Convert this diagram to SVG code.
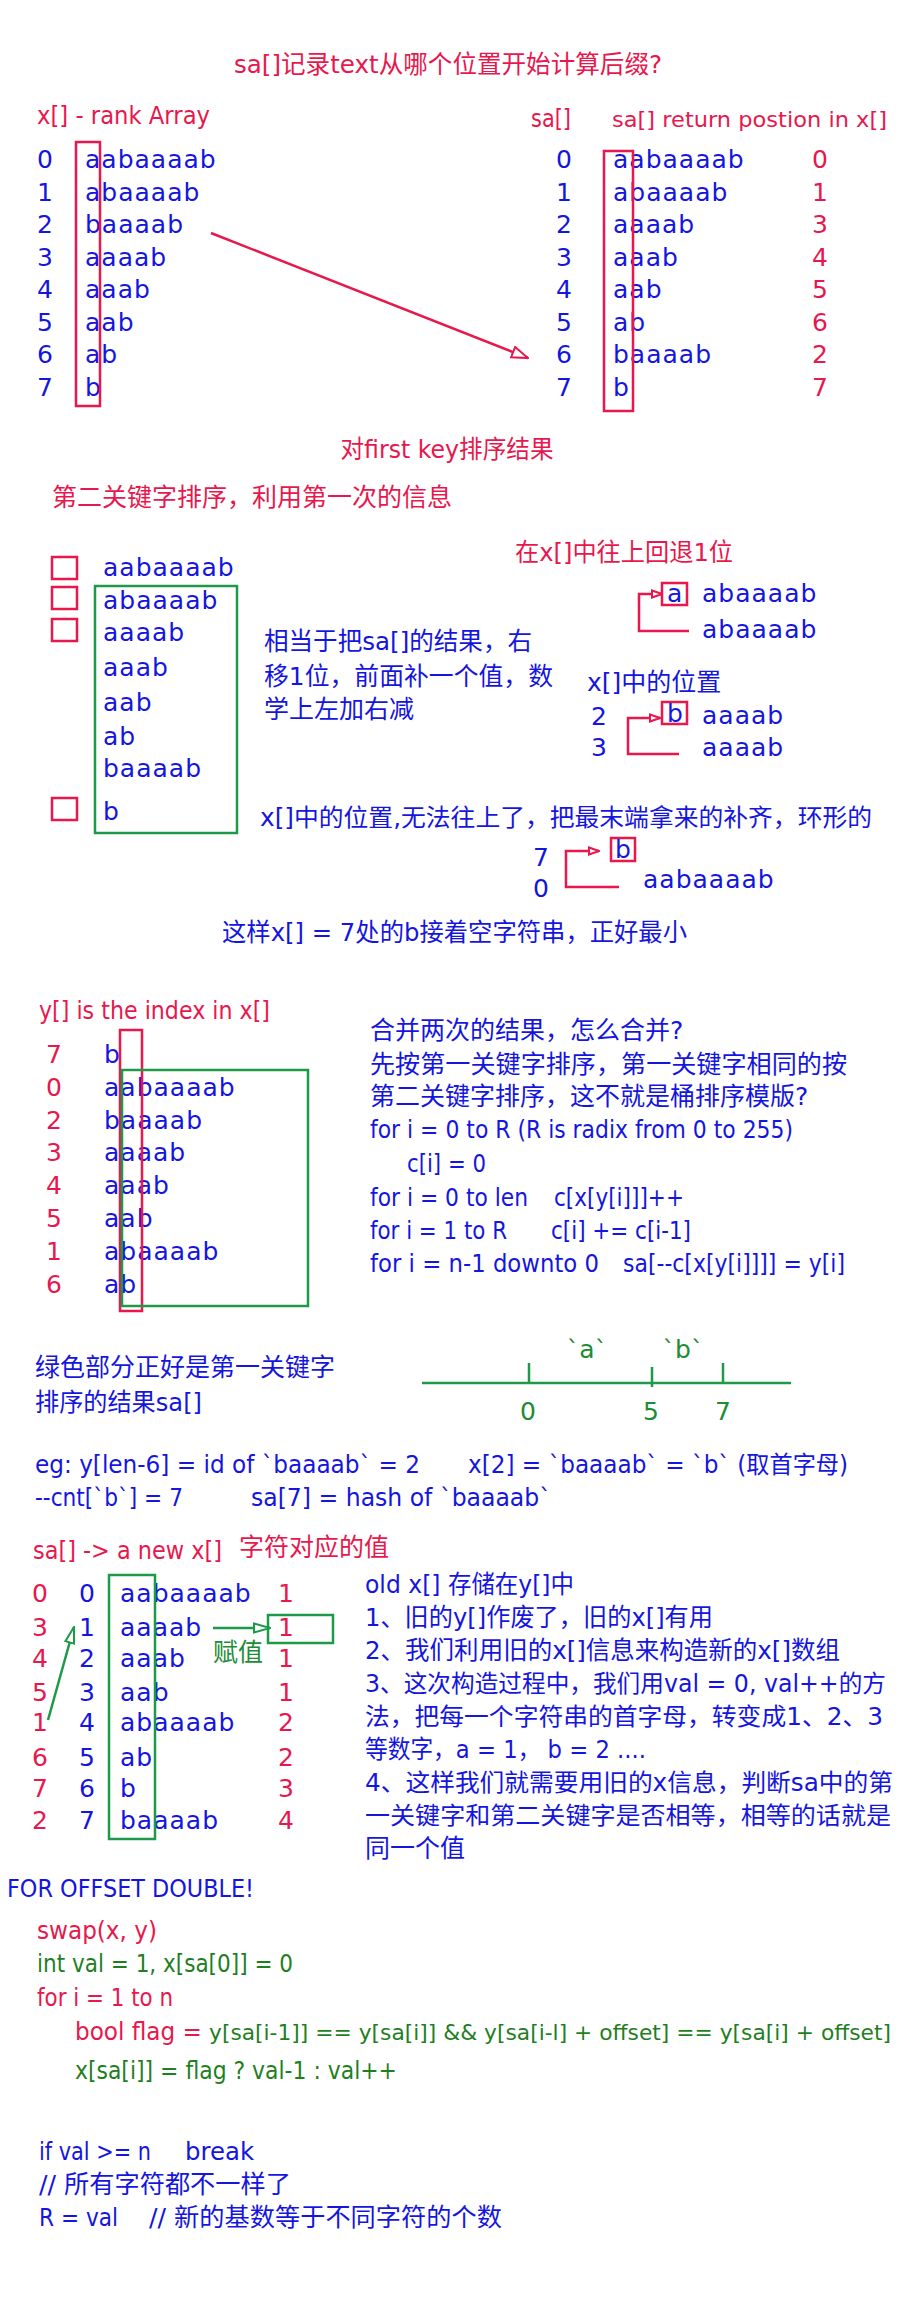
<svg xmlns="http://www.w3.org/2000/svg" width="900" height="2300" viewBox="0 0 900 2300">
<style>
text{font-family:"DejaVu Sans","Noto Sans CJK SC",sans-serif;font-size:25px}
.r{fill:#e8174d}
.b{fill:#1515e0}
.g{fill:#1f7f1f}
.gl{fill:#1d8c35}
.s{letter-spacing:1px}
.sm{font-size:22px}
.md{font-size:24px}
.rr{fill:none;stroke:#e8174d;stroke-width:2.5}
.gr{fill:none;stroke:#1c9a48;stroke-width:2.5}
.cr{fill:none;stroke:#e8174d;stroke-width:2.5}
.cg{fill:none;stroke:#1c9a48;stroke-width:2.5}
</style>
<defs>
<marker id="arR" viewBox="0 0 12 10" refX="11" refY="5" markerWidth="12" markerHeight="10" markerUnits="userSpaceOnUse" orient="auto"><path d="M1,1.5 L11,5 L1,8.5 z" fill="#fff" stroke="#e8174d" stroke-width="2"/></marker>
<marker id="arRL" viewBox="0 0 18 14" refX="17" refY="7" markerWidth="18" markerHeight="14" markerUnits="userSpaceOnUse" orient="auto"><path d="M1,1.5 L17,7 L1,12.5 z" fill="#fff" stroke="#e8174d" stroke-width="2"/></marker>
<marker id="arG" viewBox="0 0 18 12" refX="17" refY="6" markerWidth="18" markerHeight="12" markerUnits="userSpaceOnUse" orient="auto"><path d="M1,1.5 L17,6 L1,10.5 z" fill="#fff" stroke="#1c9a48" stroke-width="2"/></marker>
</defs>

<g id="title"><text class="r" x="448" y="73" text-anchor="middle" textLength="428" lengthAdjust="spacingAndGlyphs">sa[]记录text从哪个位置开始计算后缀?</text></g>

<g id="x-rank-array">
<text class="r" x="37" y="124" textLength="173" lengthAdjust="spacingAndGlyphs">x[] - rank Array</text>
<g class="b">
<text x="37" y="168">0</text><text x="37" y="201">1</text><text x="37" y="233">2</text><text x="37" y="266">3</text><text x="37" y="298">4</text><text x="37" y="331">5</text><text x="37" y="363">6</text><text x="37" y="396">7</text>
<text class="s" x="85" y="168">aabaaaab</text><text class="s" x="85" y="201">abaaaab</text><text class="s" x="85" y="233">baaaab</text><text class="s" x="85" y="266">aaaab</text><text class="s" x="85" y="298">aaab</text><text class="s" x="85" y="331">aab</text><text class="s" x="85" y="363">ab</text><text class="s" x="85" y="396">b</text>
</g>
<rect class="rr" x="76" y="142" width="24" height="264"/>
</g>

<g id="sa-array">
<text class="r" x="531" y="127" textLength="40" lengthAdjust="spacingAndGlyphs">sa[]</text>
<text class="r sm" x="612" y="127" textLength="275" lengthAdjust="spacingAndGlyphs">sa[] return postion in x[]</text>
<g class="b">
<text x="556" y="168">0</text><text x="556" y="201">1</text><text x="556" y="233">2</text><text x="556" y="266">3</text><text x="556" y="298">4</text><text x="556" y="331">5</text><text x="556" y="363">6</text><text x="556" y="396">7</text>
<text class="s" x="613" y="168">aabaaaab</text><text class="s" x="613" y="201">abaaaab</text><text class="s" x="613" y="233">aaaab</text><text class="s" x="613" y="266">aaab</text><text class="s" x="613" y="298">aab</text><text class="s" x="613" y="331">ab</text><text class="s" x="613" y="363">baaaab</text><text class="s" x="613" y="396">b</text>
</g>
<g class="r">
<text x="812" y="168">0</text><text x="812" y="201">1</text><text x="812" y="233">3</text><text x="812" y="266">4</text><text x="812" y="298">5</text><text x="812" y="331">6</text><text x="812" y="363">2</text><text x="812" y="396">7</text>
</g>
<rect class="rr" x="604" y="151" width="29" height="260"/>
</g>

<g id="first-key-result"><text class="r" x="447" y="458" text-anchor="middle" textLength="213" lengthAdjust="spacingAndGlyphs">对first key排序结果</text></g>
<g id="second-key-title"><text class="r" x="52" y="506">第二关键字排序，利用第一次的信息</text></g>

<g id="shifted-list">
<rect class="rr" x="52" y="557" width="25" height="22"/>
<rect class="rr" x="52" y="587" width="25" height="22"/>
<rect class="rr" x="52" y="619" width="25" height="22"/>
<rect class="rr" x="52" y="798" width="25" height="22"/>
<g class="b">
<text class="s" x="103" y="576">aabaaaab</text>
<text class="s" x="103" y="609">abaaaab</text>
<text class="s" x="103" y="641">aaaab</text>
<text class="s" x="103" y="676">aaab</text>
<text class="s" x="103" y="711">aab</text>
<text class="s" x="103" y="745">ab</text>
<text class="s" x="103" y="777">baaaab</text>
<text class="s" x="103" y="820">b</text>
</g>
<rect class="gr" x="95" y="586" width="142" height="247"/>
</g>

<g id="shift-note" class="b">
<text x="264" y="650" textLength="268" lengthAdjust="spacingAndGlyphs">相当于把sa[]的结果，右</text>
<text x="264" y="685" textLength="289" lengthAdjust="spacingAndGlyphs">移1位，前面补一个值，数</text>
<text x="264" y="718">学上左加右减</text>
</g>

<g id="back-one">
<text class="r" x="515" y="561" textLength="218" lengthAdjust="spacingAndGlyphs">在x[]中往上回退1位</text>
<rect class="rr" x="662" y="583" width="25" height="22"/>
<text class="b" x="667" y="602">a</text>
<text class="b s" x="702" y="602">abaaaab</text>
<text class="b s" x="702" y="638">abaaaab</text>
</g>

<g id="pos-in-x">
<text class="b" x="587" y="691">x[]中的位置</text>
<text class="b" x="591" y="725">2</text>
<text class="b" x="591" y="756">3</text>
<rect class="rr" x="662" y="702" width="25" height="22"/>
<text class="b" x="667" y="722">b</text>
<text class="b s" x="702" y="724">aaaab</text>
<text class="b s" x="702" y="756">aaaab</text>
</g>

<g id="wrap-note"><text class="b md" x="260" y="826" textLength="612" lengthAdjust="spacingAndGlyphs">x[]中的位置,无法往上了，把最末端拿来的补齐，环形的</text></g>

<g id="wrap-example">
<text class="b" x="533" y="866">7</text>
<text class="b" x="533" y="897">0</text>
<rect class="rr" x="611" y="838" width="24" height="23"/>
<text class="b" x="615" y="858">b</text>
<text class="b s" x="643" y="888">aabaaaab</text>
</g>

<g id="wrap-conclusion"><text class="b" x="222" y="941" textLength="465" lengthAdjust="spacingAndGlyphs">这样x[] = 7处的b接着空字符串，正好最小</text></g>

<g id="y-index">
<text class="r" x="39" y="1019" textLength="231" lengthAdjust="spacingAndGlyphs">y[] is the index in x[]</text>
<g class="r">
<text x="46" y="1063">7</text><text x="46" y="1096">0</text><text x="46" y="1129">2</text><text x="46" y="1161">3</text><text x="46" y="1194">4</text><text x="46" y="1227">5</text><text x="46" y="1260">1</text><text x="46" y="1293">6</text>
</g>
<g class="b">
<text class="s" x="104" y="1063">b</text><text class="s" x="104" y="1096">aabaaaab</text><text class="s" x="104" y="1129">baaaab</text><text class="s" x="104" y="1161">aaaab</text><text class="s" x="104" y="1194">aaab</text><text class="s" x="104" y="1227">aab</text><text class="s" x="104" y="1260">abaaaab</text><text class="s" x="104" y="1293">ab</text>
</g>
<rect class="rr" x="120" y="1030" width="22" height="281"/>
<rect class="gr" x="122" y="1070" width="186" height="236"/>
</g>

<g id="merge-note" class="b">
<text x="370" y="1039">合并两次的结果，怎么合并?</text>
<text x="370" y="1073" textLength="477" lengthAdjust="spacingAndGlyphs">先按第一关键字排序，第一关键字相同的按</text>
<text x="370" y="1105">第二关键字排序，这不就是桶排序模版?</text>
<text x="370" y="1138" textLength="423" lengthAdjust="spacingAndGlyphs">for i = 0 to R (R is radix from 0 to 255)</text>
<text x="407" y="1172" textLength="79" lengthAdjust="spacingAndGlyphs">c[i] = 0</text>
<text x="370" y="1206" textLength="158" lengthAdjust="spacingAndGlyphs">for i = 0 to len</text>
<text x="554" y="1206" textLength="130" lengthAdjust="spacingAndGlyphs">c[x[y[i]]]++</text>
<text x="370" y="1239" textLength="137" lengthAdjust="spacingAndGlyphs">for i = 1 to R</text>
<text x="551" y="1239" textLength="140" lengthAdjust="spacingAndGlyphs">c[i] += c[i-1]</text>
<text x="370" y="1272" textLength="229" lengthAdjust="spacingAndGlyphs">for i = n-1 downto 0</text>
<text x="623" y="1272" textLength="222" lengthAdjust="spacingAndGlyphs">sa[--c[x[y[i]]]] = y[i]</text>
</g>

<g id="green-note" class="b">
<text x="35" y="1376">绿色部分正好是第一关键字</text>
<text x="35" y="1411" textLength="167" lengthAdjust="spacingAndGlyphs">排序的结果sa[]</text>
</g>

<g id="number-line">
<line class="cg" x1="422" y1="1383" x2="791" y2="1383"/>
<line class="cg" x1="529" y1="1363" x2="529" y2="1383"/>
<line class="cg" x1="652" y1="1367" x2="652" y2="1387"/>
<line class="cg" x1="723" y1="1363" x2="723" y2="1383"/>
<g class="gl" text-anchor="middle">
<text x="587" y="1358">`a`</text>
<text x="683" y="1358">`b`</text>
<text x="528" y="1420">0</text>
<text x="651" y="1420">5</text>
<text x="723" y="1420">7</text>
</g>
</g>

<g id="example" class="b">
<text x="35" y="1473" textLength="385" lengthAdjust="spacingAndGlyphs">eg: y[len-6] = id of `baaaab` = 2</text>
<text class="md" x="468" y="1473" textLength="380" lengthAdjust="spacingAndGlyphs">x[2] = `baaaab` = `b` (取首字母)</text>
<text x="35" y="1506" textLength="148" lengthAdjust="spacingAndGlyphs">--cnt[`b`] = 7</text>
<text x="251" y="1506" textLength="300" lengthAdjust="spacingAndGlyphs">sa[7] = hash of `baaaab`</text>
</g>

<g id="new-x">
<text class="r" x="33" y="1559" textLength="189" lengthAdjust="spacingAndGlyphs">sa[] -&gt; a new x[]</text>
<text class="r" x="239" y="1556">字符对应的值</text>
<g class="r">
<text x="32" y="1602">0</text><text x="32" y="1636">3</text><text x="32" y="1667">4</text><text x="32" y="1701">5</text><text x="32" y="1731">1</text><text x="32" y="1766">6</text><text x="32" y="1797">7</text><text x="32" y="1829">2</text>
</g>
<g class="b">
<text x="79" y="1602">0</text><text x="79" y="1636">1</text><text x="79" y="1667">2</text><text x="79" y="1701">3</text><text x="79" y="1731">4</text><text x="79" y="1766">5</text><text x="79" y="1797">6</text><text x="79" y="1829">7</text>
<text class="s" x="120" y="1602">aabaaaab</text><text class="s" x="120" y="1636">aaaab</text><text class="s" x="120" y="1667">aaab</text><text class="s" x="120" y="1701">aab</text><text class="s" x="120" y="1731">abaaaab</text><text class="s" x="120" y="1766">ab</text><text class="s" x="120" y="1797">b</text><text class="s" x="120" y="1829">baaaab</text>
</g>
<g class="r" text-anchor="middle">
<text x="286" y="1602">1</text><text x="286" y="1636">1</text><text x="286" y="1667">1</text><text x="286" y="1701">1</text><text x="286" y="1731">2</text><text x="286" y="1766">2</text><text x="286" y="1797">3</text><text x="286" y="1829">4</text>
</g>
<rect class="gr" x="109" y="1575" width="46" height="264"/>
<rect class="gr" x="268" y="1615" width="65" height="28"/>
<text class="gl" x="213" y="1661">赋值</text>
</g>

<g id="new-x-note" class="b">
<text x="365" y="1593" textLength="209" lengthAdjust="spacingAndGlyphs">old x[] 存储在y[]中</text>
<text x="365" y="1626" textLength="348" lengthAdjust="spacingAndGlyphs">1、旧的y[]作废了，旧的x[]有用</text>
<text x="365" y="1659" textLength="475" lengthAdjust="spacingAndGlyphs">2、我们利用旧的x[]信息来构造新的x[]数组</text>
<text class="md" x="365" y="1692" textLength="521" lengthAdjust="spacingAndGlyphs">3、这次构造过程中，我们用val = 0, val++的方</text>
<text class="md" x="365" y="1725" textLength="518" lengthAdjust="spacingAndGlyphs">法，把每一个字符串的首字母，转变成1、2、3</text>
<text x="365" y="1758" textLength="281" lengthAdjust="spacingAndGlyphs">等数字，a = 1，  b = 2 ....</text>
<text class="md" x="365" y="1791" textLength="528" lengthAdjust="spacingAndGlyphs">4、这样我们就需要用旧的x信息，判断sa中的第</text>
<text class="md" x="365" y="1824" textLength="526" lengthAdjust="spacingAndGlyphs">一关键字和第二关键字是否相等，相等的话就是</text>
<text x="365" y="1857">同一个值</text>
</g>

<g id="offset-double">
<text class="b" x="7" y="1897" textLength="247" lengthAdjust="spacingAndGlyphs">FOR OFFSET DOUBLE!</text>
<text class="r" x="37" y="1939" textLength="120" lengthAdjust="spacingAndGlyphs">swap(x, y)</text>
<text class="g" x="37" y="1972" textLength="256" lengthAdjust="spacingAndGlyphs">int val = 1, x[sa[0]] = 0</text>
<text class="r" x="37" y="2006" textLength="136" lengthAdjust="spacingAndGlyphs">for i = 1 to n</text>
<text class="r" x="75" y="2040" textLength="127" lengthAdjust="spacingAndGlyphs">bool flag =</text>
<text class="g" x="209" y="2040" style="font-size:21.5px" textLength="682" lengthAdjust="spacingAndGlyphs">y[sa[i-1]] == y[sa[i]] &amp;&amp; y[sa[i-l] + offset] == y[sa[i] + offset]</text>
<text class="g" x="75" y="2079" textLength="322" lengthAdjust="spacingAndGlyphs">x[sa[i]] = flag ? val-1 : val++</text>
<text class="b" x="39" y="2160" textLength="112" lengthAdjust="spacingAndGlyphs">if val &gt;= n</text>
<text class="b" x="185" y="2160" textLength="69" lengthAdjust="spacingAndGlyphs">break</text>
<text class="b" x="39" y="2193" textLength="252" lengthAdjust="spacingAndGlyphs">// 所有字符都不一样了</text>
<text class="b" x="39" y="2226" textLength="79" lengthAdjust="spacingAndGlyphs">R = val</text>
<text class="b" x="149" y="2226" textLength="353" lengthAdjust="spacingAndGlyphs">// 新的基数等于不同字符的个数</text>
</g>

<g id="connectors">
<line class="cr" x1="211" y1="233" x2="528" y2="358" marker-end="url(#arRL)"/>
<polyline class="cr" points="689,631 639,631 639,594 662,594" marker-end="url(#arR)"/>
<polyline class="cr" points="679,754 628,754 628,718 660,718" marker-end="url(#arR)"/>
<polyline class="cr" points="619,887 566,887 566,851 599,851" marker-end="url(#arR)"/>
<line class="cg" x1="213" y1="1628" x2="270" y2="1628" marker-end="url(#arG)"/>
<line class="cg" x1="48" y1="1720" x2="74" y2="1627" marker-end="url(#arG)"/>
</g>
</svg>
